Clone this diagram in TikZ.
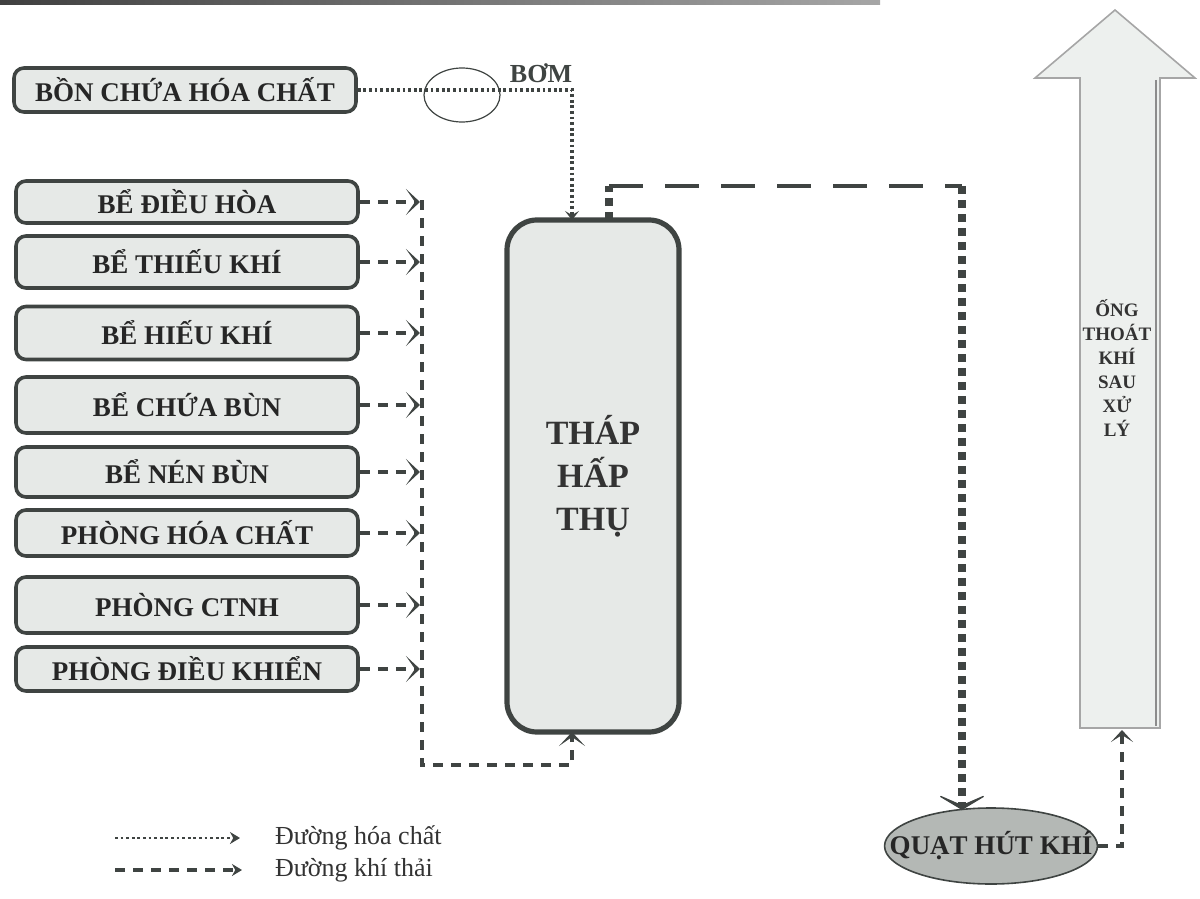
\documentclass[tikz,border=0pt]{standalone}
\usepackage{fontspec}
\setmainfont{Liberation Serif}
\usetikzlibrary{arrows.meta,shapes.geometric}
\definecolor{qline}{HTML}{3F4442}
\definecolor{qfill}{HTML}{E6E9E7}
\definecolor{qfan}{HTML}{B4B8B5}
\tikzset{
  tank/.style={draw=qline,fill=qfill,rounded corners=5pt,line width=1.8pt,minimum width=171pt,align=center,font=\fontsize{13.5}{16}\selectfont\bfseries,text=black!85,inner sep=2pt},
  chem/.style={draw=qline,line width=1.6pt,dash pattern=on 1.4pt off 1.4pt},
  gas/.style={draw=qline,line width=1.9pt,dash pattern=on 5pt off 4pt},
  gasthin/.style={draw=qline,line width=1.8pt,dash pattern=on 17pt off 11pt},
  gasthick/.style={draw=qline,line width=3.8pt,dash pattern=on 3.8pt off 3.2pt},
  tip/.style={-{Stealth[length=7pt,width=13pt,inset=4.5pt]}},
}
\begin{document}
\begin{tikzpicture}[x=0.5pt,y=-0.5pt]
  \useasboundingbox (0,0) rectangle (1200,899);
  % scan band
  \shade[left color=black!75,right color=black!35] (0,0) rectangle (880,5);
  % --- chemical feed
  \node[tank,minimum height=22pt] (bon) at (185,90) {BỒN CHỨA HÓA CHẤT};
  \node[draw=qline,ellipse,line width=0.6pt,minimum width=38pt,minimum height=27pt,inner sep=0] (bom) at (462,95) {};
  \node[font=\fontsize{13}{15}\selectfont\bfseries,text=qline] (bomlbl) at (541,73) {BƠM};
  % --- tower
  \node[draw=qline,fill=qfill,rounded corners=15pt,line width=2.6pt,minimum width=86pt,minimum height=256pt,align=center,
        font=\fontsize{17}{21.5}\selectfont\bfseries,text=black!80] (thap) at (593,476) {THÁP\\HẤP\\THỤ};
  \coordinate (tin) at (572,220);
  \coordinate (tinb) at (572,732);
  \draw[chem,-{Stealth[length=4.5pt,width=7pt,inset=2pt]}] (bon.east) -- (bon.east -| tin) -- (tin);
  % --- sources
  \foreach \y/\h/\t [count=\i] in {202/42/BỂ ĐIỀU HÒA, 262/52/BỂ THIẾU KHÍ, 333/53/BỂ HIẾU KHÍ, 405/56/BỂ CHỨA BÙN,
                                   472/50/BỂ NÉN BÙN, 533/46/PHÒNG HÓA CHẤT, 605/56/PHÒNG CTNH, 669/44/PHÒNG ĐIỀU KHIỂN} {
    \node[tank,minimum height=\h*0.5pt] (b\i) at (187,\y) {\t};
    \coordinate (j\i) at (420,\y);
    \draw[gas,tip] (b\i.east) -- (j\i);
  }
  \coordinate (ctop) at (422,200);
  \coordinate (cbot) at (422,765);
  \draw[gas,-{Stealth[length=7pt,width=13pt,inset=4.5pt]}] (ctop) -- (cbot) -| (tinb);
  % --- fan
  \node[draw=qline,fill=qfan,ellipse,line width=0.8pt,minimum width=106pt,minimum height=38pt,inner xsep=-13pt,inner ysep=0pt,
        font=\fontsize{13.5}{16}\selectfont\bfseries,text=black!85] (quat) at (991,846) {QUẠT HÚT KHÍ};
  \coordinate (tout) at (609,220);
  \coordinate (gc1) at (609,186);
  \coordinate (gc2) at (962,186);
  \coordinate (fin) at (962,810);
  \draw[gasthick] (tout) -- (gc1);
  \draw[gasthin] (gc1) -- (gc2);
  \draw[gasthick,-{Stealth[length=9pt,width=30pt,inset=6.5pt]}] (gc2) -- (fin);
  % --- stack
  \draw[draw=black!35,fill=qfill!70,line width=0.8pt] (1080,728) -- (1080,78) -- (1035,78) -- (1115,10) -- (1195,78) -- (1160,78) -- (1160,728) -- cycle;
  \draw[black!45,line width=1pt] (1156,80) -- (1156,726);
  \node[align=center,font=\fontsize{9.5}{12}\selectfont\bfseries,text=black!80] (ong) at (1117,368) {ỐNG\\THOÁT\\KHÍ\\SAU\\XỬ\\LÝ};
  \coordinate (sin) at (1122,730);
  \draw[gas,-{Stealth[length=6pt,width=11pt,inset=3.5pt]}] (quat.east) -| (sin);
  % --- legend
  \coordinate (l1a) at (115,838);
  \coordinate (l1b) at (240,838);
  \coordinate (l2a) at (115,870);
  \coordinate (l2b) at (242,870);
  \draw[chem,line width=1.2pt,-{Stealth[length=5pt,width=6pt]}] (l1a) -- (l1b);
  \draw[gas,line width=1.8pt,-{Stealth[length=5pt,width=6pt]}] (l2a) -- (l2b);
  \node[anchor=west,font=\fontsize{13}{15}\selectfont,text=black!80] (leg1) at (268,838) {Đường hóa chất};
  \node[anchor=west,font=\fontsize{13}{15}\selectfont,text=black!80] (leg2) at (268,870) {Đường khí thải};
\end{tikzpicture}
\end{document}
